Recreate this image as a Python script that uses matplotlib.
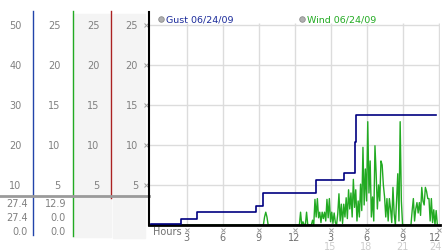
import numpy as np
import matplotlib.pyplot as plt
from matplotlib import transforms

# gust (mph) as steps: time of change (hours) and new level
gust_hours = [0, 2.5, 3.9, 8.75, 9.4, 13.75, 16.1, 17.05, 17.15, 23.8]
gust_mph = [0.3, 1.5, 3.2, 4.7, 8.0, 11.3, 13.0, 20.7, 27.4, 27.4]

# wind (mph): a quiet day until noon, then gusty afternoon
wind_morning_hours = [0, 9.4, 9.5, 9.6, 9.7, 9.8]
wind_morning_mph = [0, 0, 1.0, 1.6, 1.0, 0]
wind_afternoon_mph = [
    0, 0, 0, 0, 0, 1.6, 0, 0.4, 0, 0,
    1.6, 0, 0, 0, 0, 0.6, 0, 3.2, 1.0, 3.3,
    0.9, 1.6, 0.3, 1.6, 0.8, 1.6, 0.5, 3.2, 0.9, 3.3,
    0.4, 1.6, 0.2, 1.5, 0.3, 0, 1.4, 3.9, 0.5, 2.6,
    0.2, 2.6, 1.0, 3.4, 0.8, 4.4, 2.0, 4.0, 1.0, 5.7,
    2.2, 4.4, 0.5, 3.0, 1.0, 5.1, 1.8, 9.7, 2.5, 7.0,
    3.0, 12.9, 4.0, 8.0, 1.0, 3.5, 0.5, 9.9, 6.4, 2.0,
    5.0, 3.0, 8.0, 7.5, 5.0, 3.5, 1.0, 3.3, 0.5, 3.3,
    2.0, 0.3, 4.7, 1.4, 0, 3.0, 6.4, 0.5, 12.9, 3.0,
    0, 0, 0, 0, 0, 0, 0, 0, 1.8, 3.3,
    0.5, 2.0, 2.8, 1.5, 2.8, 1.2, 4.7, 3.0, 2.5, 4.7,
    4.2, 3.3, 3.3, 0.5, 3.3, 0.3, 1.9, 0, 1.8, 0,
]
wind_afternoon_hours = list(np.round(12.0 + 0.1 * np.arange(len(wind_afternoon_mph)), 1))

wind_hours = wind_morning_hours + wind_afternoon_hours
wind_mph = wind_morning_mph + wind_afternoon_mph

wind_ticks = [5, 10, 15, 20, 25]
gust_ticks = [10, 20, 30, 40, 50]
hour_ticks = [3, 6, 9, 12, 15, 18, 21, 24]
hour_labels = ['3', '6', '9', '12', '3', '6', '9', '12']
hour_labels2 = {15: '15', 18: '18', 21: '21', 24: '24'}

gust_stats = ['27.4', '27.4', '0.0']
wind_stats = ['12.9', '0.0', '0.0']

W, H = 442, 253
YTOP = 26.6

fig = plt.figure(figsize=(W / 100, H / 100), dpi=100)
bg = fig.add_axes([0, 0, 1, 1])
bg.set_xlim(0, W)
bg.set_ylim(H, 0)
bg.axis('off')

ax = fig.add_axes([149 / W, (H - 226) / H, 291 / W, 213 / H])
ax.patch.set_visible(False)
ax.set_xlim(-0.13, 24.12)
ax.set_ylim(0, YTOP)
axg = ax.twinx()
axg.set_ylim(0, 2 * YTOP)
axg.axis('off')

for s in ['top', 'right']:
    ax.spines[s].set_visible(False)
ax.spines['left'].set_color('black')
ax.spines['left'].set_linewidth(1.5)
ax.spines['bottom'].set_color('black')
ax.spines['bottom'].set_linewidth(2)
ax.set_xticks([])
ax.set_yticks([])

# grid
ax.hlines(wind_ticks, -0.13, 24.12, color='#dcdcdc', lw=1, zorder=0)
ax.vlines(hour_ticks, 0, 25.2, color='#dcdcdc', lw=1, zorder=0)

ax.plot(wind_hours, wind_mph, color='#22aa22', lw=1)
axg.plot(gust_hours, gust_mph, color='#000080', lw=1.2, drawstyle='steps-post')

# legend
bg.plot([160.7], [20], 'o', ms=4, mfc='#b0b0b0', mec='#8c8c8c', mew=0.6)
bg.text(166, 20, 'Gust 06/24/09', color='#1a2a9a', fontsize=6.8, va='center')
bg.plot([302], [20], 'o', ms=4, mfc='#b0b0b0', mec='#8c8c8c', mew=0.6)
bg.text(307, 20, 'Wind 06/24/09', color='#22aa22', fontsize=6.8, va='center')

# left scale panels
bg.add_patch(plt.Rectangle((73, 15), 38, 223, color='#f4f4f4', zorder=0))
bg.add_patch(plt.Rectangle((113, 15), 32, 224, color='#f4f4f4', zorder=0))
bg.plot([33.3, 33.3], [12, 236], color='#2244aa', lw=1)
bg.plot([72.5, 72.5], [12, 237], color='#22aa22', lw=1)
bg.plot([111, 111], [12, 199], color='#aa2222', lw=1)
bg.plot([0, 149], [197, 197], color='#9a9a9a', lw=2)

tr_w = transforms.blended_transform_factory(bg.transData, ax.transData)
tr_g = transforms.blended_transform_factory(bg.transData, axg.transData)
for v in gust_ticks:
    bg.text(21.5, v, str(v), transform=tr_g, ha='right', va='center', fontsize=7, color='#808080')
for v in wind_ticks:
    for xr in [60.5, 99.5, 138]:
        bg.text(xr, v, str(v), transform=tr_w, ha='right', va='center', fontsize=7, color='#808080')
ax.plot([-0.35] * len(wind_ticks), wind_ticks, 'x', ms=2.5, mew=0.7, color='#a0a0a0', clip_on=False)

for i, (g, w) in enumerate(zip(gust_stats, wind_stats)):
    yy = 204 + 14 * i
    bg.text(27.5, yy, g, ha='right', va='center', fontsize=7, color='#808080')
    bg.text(66, yy, w, ha='right', va='center', fontsize=7, color='#808080')

# hour axis labels
tr_x = transforms.blended_transform_factory(ax.transData, bg.transData)
bg.text(153, 232, 'Hours', ha='left', va='center', fontsize=7, color='#707070')
bg.plot(hour_ticks, [230.5] * len(hour_ticks), 'x', transform=tr_x, ms=2.5, mew=0.7, color='#a0a0a0')
for h, lab in zip(hour_ticks, hour_labels):
    xh = min(h, 23.7)
    bg.text(xh, 238, lab, transform=tr_x, ha='center', va='center', fontsize=7, color='#707070')
    if h in hour_labels2:
        bg.text(xh, 247.5, hour_labels2[h], transform=tr_x, ha='center', va='center',
                fontsize=7, color='#cccccc')

fig.savefig('out.png', dpi=100)
